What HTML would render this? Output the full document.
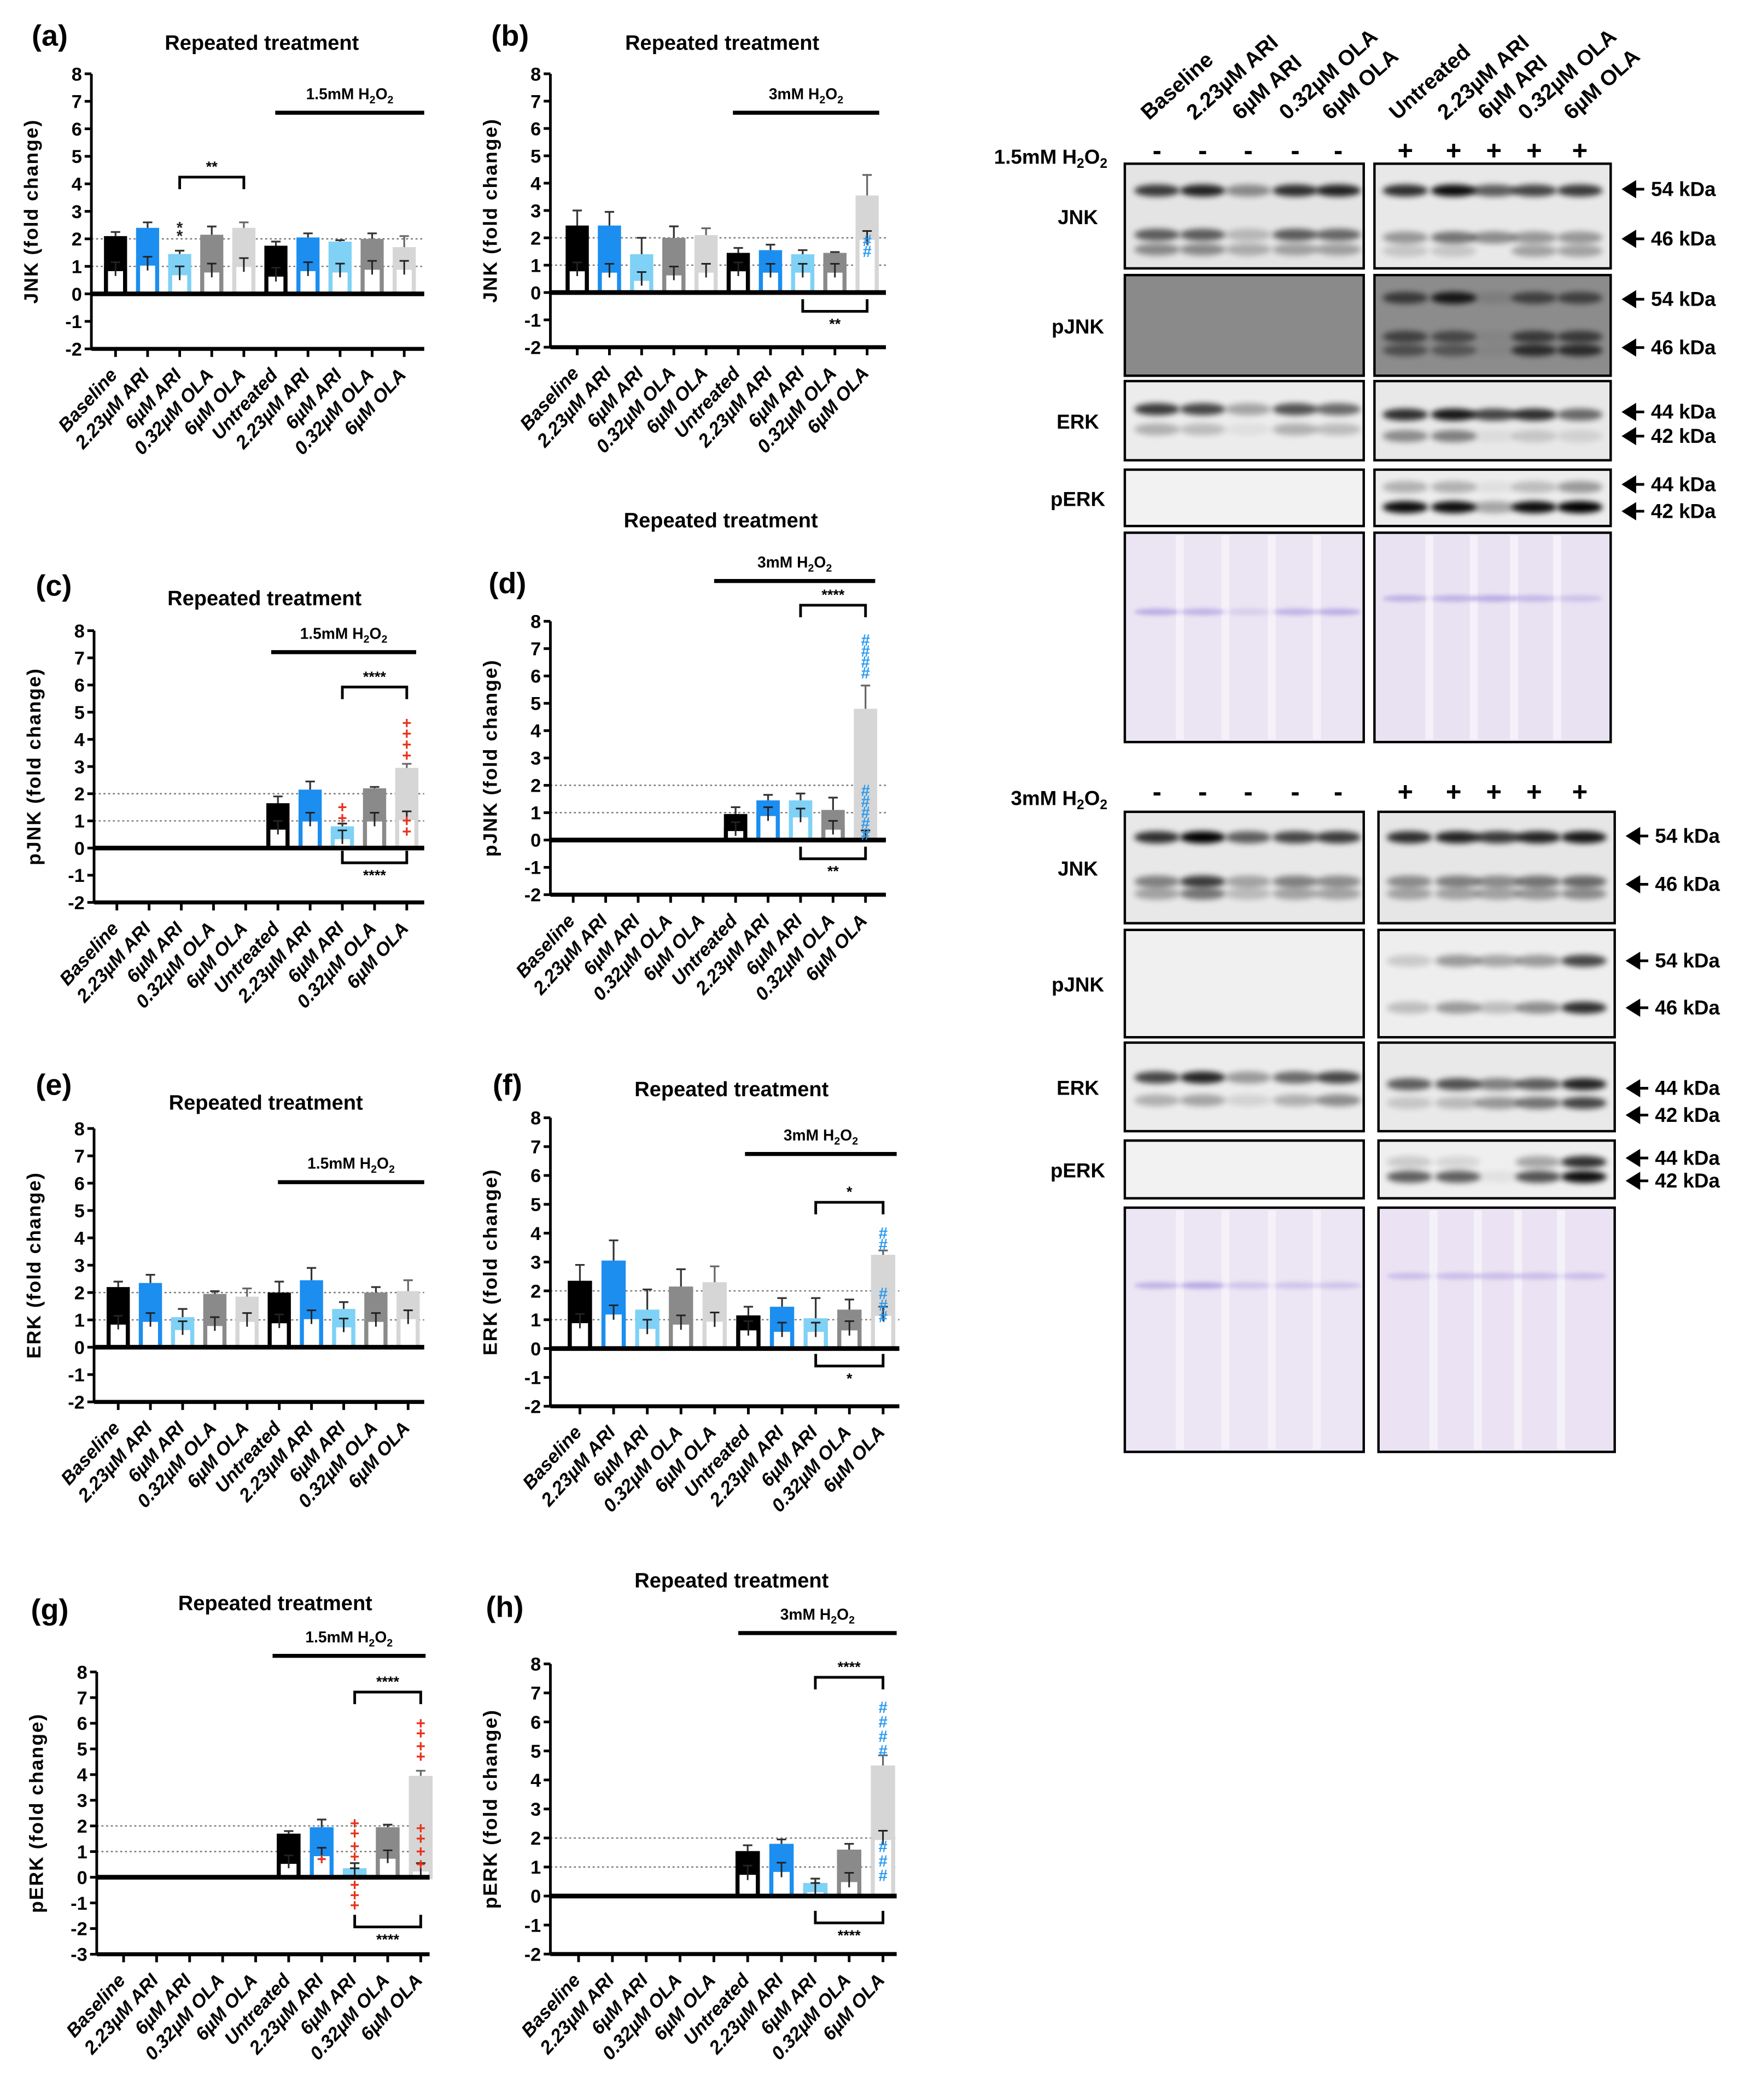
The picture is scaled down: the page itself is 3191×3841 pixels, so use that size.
<!DOCTYPE html>
<html><head><meta charset="utf-8"><style>
html,body{margin:0;padding:0;background:#fff}
svg{display:block}
text{font-family:"Liberation Sans",sans-serif}
</style></head><body>
<svg id="fig" xmlns="http://www.w3.org/2000/svg" width="3191" height="3841" viewBox="0 0 1300 1565">
<defs><filter id="blur" x="-20%" y="-100%" width="140%" height="300%"><feGaussianBlur stdDeviation="2.2"/></filter>
<filter id="blur2" x="-20%" y="-200%" width="140%" height="500%"><feGaussianBlur stdDeviation="1.5"/></filter></defs>
</svg>
<script>
const categories=["Baseline","2.23µM ARI","6µM ARI","0.32µM OLA","6µM OLA","Untreated","2.23µM ARI","6µM ARI","0.32µM OLA","6µM OLA"];
const yTicks=[-3,-2,-1,0,1,2,3,4,5,6,7,8];
const meanA=[2.1,2.4,1.45,2.15,2.4,1.75,2.05,1.9,2.0,1.7];
const errA=[0.15,0.2,0.12,0.3,0.2,0.15,0.15,0.05,0.2,0.4];
const innerA=[0.9,1.1,0.75,0.85,1.05,0.7,0.9,0.85,0.95,0.95];
const meanB=[2.45,2.45,1.4,2.0,2.1,1.45,1.55,1.4,1.45,3.55];
const errB=[0.55,0.5,0.6,0.42,0.25,0.18,0.2,0.15,0.03,0.75];
const innerB=[0.85,0.8,0.5,0.7,0.8,0.85,0.8,0.8,0.8,2.0];
const meanC=[null,null,null,null,null,1.65,2.15,0.8,2.2,2.95];
const errC=[0,0,0,0,0,0.25,0.3,0.1,0.05,0.15];
const innerC=[0,0,0,0,0,0.75,1.05,0.4,1.05,1.1];
const meanD=[null,null,null,null,null,0.95,1.45,1.45,1.1,4.8];
const errD=[0,0,0,0,0,0.25,0.2,0.25,0.45,0.85];
const innerD=[0,0,0,0,0,0.4,0.95,0.9,0.45,0.1];
const meanE=[2.2,2.35,1.1,1.95,1.85,2.0,2.45,1.4,2.0,2.05];
const errE=[0.2,0.3,0.3,0.1,0.3,0.4,0.45,0.25,0.2,0.4];
const innerE=[0.9,1.0,0.7,0.85,1.0,0.95,1.1,0.8,1.0,1.1];
const meanF=[2.35,3.05,1.35,2.15,2.3,1.15,1.45,1.05,1.35,3.25];
const errF=[0.55,0.7,0.7,0.6,0.55,0.3,0.3,0.7,0.35,0.15];
const innerF=[0.95,1.25,0.75,0.9,1.0,0.7,0.65,0.65,0.7,1.2];
const meanG=[null,null,null,null,null,1.7,1.95,0.35,1.95,3.95];
const errG=[0,0,0,0,0,0.1,0.3,0.2,0.1,0.2];
const innerG=[0,0,0,0,0,0.6,0.9,0.1,0.8,0.3];
const meanH=[null,null,null,null,null,1.55,1.8,0.45,1.6,4.5];
const errH=[0,0,0,0,0,0.2,0.15,0.15,0.2,0.35];
const innerH=[0,0,0,0,0,0.8,0.9,0.2,0.55,2.0];

const svg=document.getElementById('fig');
const NS="http://www.w3.org/2000/svg";
function el(tag,attrs,parent,txt){const e=document.createElementNS(NS,tag);for(const k in attrs)e.setAttribute(k,attrs[k]);if(txt!==undefined)e.textContent=txt;(parent||svg).appendChild(e);return e;}
const colors=["#000","#1b8ef0","#7fd1f5","#8a8a8a","#d6d6d6","#000","#1b8ef0","#7fd1f5","#8a8a8a","#d6d6d6"];

function chart(cfg,mean,err,inner){
  const g=el('g',{});
  
  
  const unit=(cfg.y0-cfg.y8)/8;
  const Y=v=>cfg.y0-v*unit;
  const X=i=>cfg.c0+i*cfg.step;
  const yMinPx=Y(cfg.min);
  const lt=el('text',{x:cfg.lx,y:cfg.ly,'font-size':22,'font-weight':'bold','text-anchor':'middle'},g,cfg.letter);
  
  const tt=el('text',{x:cfg.tx,y:cfg.ty,'font-size':15.5,'font-weight':'bold','text-anchor':'middle'},g,'Repeated treatment');
  
  [1,2].forEach(v=>{const l=el('line',{x1:cfg.ax,x2:cfg.xEnd,y1:Y(v),y2:Y(v),stroke:'#777','stroke-width':1,'stroke-dasharray':'1.5,2'},g);
    });
  mean.forEach((m,i)=>{
    if(m===null)return;
    const cx=X(i),w=cfg.step*0.72,c=colors[i];
    const b=el('rect',{x:cx-w/2,y:Y(m),width:w,height:Y(0)-Y(m),fill:c},g);
    
    
    const inn=el('rect',{x:cx-w/2+1.5,y:Y(inner[i]),width:w-3,height:Y(0)-Y(inner[i]),fill:'#fff',stroke:c,'stroke-width':3},g);
    
    const e=el('path',{d:`M${cx},${Y(m)} V${Y(m+err[i])} M${cx-3.5},${Y(m+err[i])} H${cx+3.5}`,stroke:(i%5==4?'#666':'#333'),'stroke-width':1.3,fill:'none'},g);
    
    const t=el('path',{d:`M${cx},${Y(inner[i]+0.25)} V${Y(Math.max(inner[i]-0.25,0))} M${cx-3.5},${Y(inner[i]+0.25)} H${cx+3.5}`,stroke:'#222','stroke-width':1.2,fill:'none'},g);
    
  });
  const ya=el('line',{x1:cfg.ax,x2:cfg.ax,y1:cfg.y8,y2:yMinPx,stroke:'#000','stroke-width':2},g);
  
  const z=el('line',{x1:cfg.ax,x2:cfg.xEnd,y1:Y(0),y2:Y(0),stroke:'#000','stroke-width':3.5},g);
  
  const xb=el('line',{x1:cfg.ax,x2:cfg.xEnd,y1:yMinPx,y2:yMinPx,stroke:'#000','stroke-width':3},g);
  
  yTicks.filter(v=>v>=cfg.min).forEach(v=>{
    el('line',{x1:cfg.ax-5,x2:cfg.ax,y1:Y(v),y2:Y(v),stroke:'#000','stroke-width':2},g);
    const t=el('text',{x:cfg.ax-7,y:Y(v)+5,'font-size':14,'font-weight':'bold','text-anchor':'end'},g,String(v));
    
  });
  categories.forEach((c,i)=>{
    el('line',{x1:X(i),x2:X(i),y1:yMinPx,y2:yMinPx+6,stroke:'#000','stroke-width':2},g);
    const t=el('text',{x:X(i)+2,y:yMinPx+20,'font-size':14,'font-weight':'bold','font-style':'italic','text-anchor':'end',transform:`rotate(-48 ${X(i)+2} ${yMinPx+20})`},g,c);
    
  });
  const yt=el('text',{x:0,y:0,'font-size':14.5,'font-weight':'bold','letter-spacing':'0.8','text-anchor':'middle',transform:`translate(${cfg.ax-40},${(cfg.y8+yMinPx)/2}) rotate(-90)`},g,cfg.ytitle+' (fold change)');
  
  const hb=el('line',{x1:cfg.h[0],x2:cfg.h[1],y1:cfg.h[2],y2:cfg.h[2],stroke:'#000','stroke-width':3},g);
  
  const ht=el('text',{x:(cfg.h[0]+cfg.h[1])/2,y:cfg.h[2]-10,'font-size':11.5,'font-weight':'bold','text-anchor':'middle'},g);
  ht.innerHTML=cfg.hl+'mM H<tspan font-size="8" dy="3">2</tspan><tspan dy="-3">O</tspan><tspan font-size="8" dy="3">2</tspan>';
  
  (cfg.brackets||[]).forEach(b=>{
    const [i1,i2,y,lab,down]=b;const x1=X(i1),x2=X(i2);
    const d=down?`M${x1},${y-9} V${y} H${x2} V${y-9}`:`M${x1},${y+9} V${y} H${x2} V${y+9}`;
    const p=el('path',{d,stroke:'#000','stroke-width':2,fill:'none'},g);
    
    const t=el('text',{x:(x1+x2)/2,y:down?y+13:y-4,'font-size':11,'font-weight':'bold','text-anchor':'middle'},g,lab);
    
  });
  (cfg.marks||[]).forEach(mk=>{
    const [i,sym,col,vals]=mk;
    vals.forEach(v=>{const t=el('text',{x:X(i),y:Y(v)+4,'font-size':12,'font-weight':'bold','text-anchor':'middle',fill:col},g,sym);
      });
  });
}
const red="#e8321c",blu="#2a9af0";
chart({name:'chart-a-jnk-1.5mm',letter:'(a)',lx:37,ly:34,tx:195,ty:37,ax:68,xEnd:316,y8:55,y0:219,min:-2,c0:86,step:23.9,ytitle:'JNK',h:[205,316,84],hl:'1.5',
  brackets:[[2,4,132,'**',false]],marks:[[2,'*','#222',[2.4,2.1]]]},meanA,errA,innerA);
chart({name:'chart-b-jnk-3mm',letter:'(b)',lx:380,ly:34,tx:538,ty:37,ax:410,xEnd:660,y8:55,y0:218,min:-2,c0:430,step:24,ytitle:'JNK',h:[546,655,84],hl:'3',
  brackets:[[7,9,232,'**',true]],marks:[[9,'#',blu,[1.9,1.5]]]},meanB,errB,innerB);
chart({name:'chart-c-pjnk-1.5mm',letter:'(c)',lx:40,ly:444,tx:197,ty:451,ax:70,xEnd:316,y8:470,y0:632,min:-2,c0:87,step:24,ytitle:'pJNK',h:[202,310,486],hl:'1.5',
  brackets:[[7,9,512,'****',false],[7,9,643,'****',true]],marks:[[7,'+',red,[1.5,1.1]],[9,'+',red,[4.6,4.2,3.8,3.4,1.0,0.6]]]},meanC,errC,innerC);
chart({name:'chart-d-pjnk-3mm',letter:'(d)',lx:378,ly:442,tx:537,ty:393,ax:410,xEnd:660,y8:463,y0:626,min:-2,c0:427,step:24.2,ytitle:'pJNK',h:[532,652,433],hl:'3',
  brackets:[[7,9,451,'****',false],[7,9,640,'**',true]],marks:[[9,'#',blu,[7.3,6.9,6.5,6.1,1.8,1.4,1.0,0.6,0.2]]]},meanD,errD,innerD);
chart({name:'chart-e-erk-1.5mm',letter:'(e)',lx:40,ly:816,tx:198,ty:827,ax:70,xEnd:316,y8:841,y0:1004,min:-2,c0:88,step:24,ytitle:'ERK',h:[207,316,881],hl:'1.5'},meanE,errE,innerE);
chart({name:'chart-f-erk-3mm',letter:'(f)',lx:378,ly:816,tx:545,ty:817,ax:410,xEnd:670,y8:833,y0:1005,min:-2,c0:432,step:25.1,ytitle:'ERK',h:[555,668,860],hl:'3',
  brackets:[[7,9,896,'*',false],[7,9,1018,'*',true]],marks:[[9,'#',blu,[4.0,3.6,1.9,1.5,1.1]]]},meanF,errF,innerF);
chart({name:'chart-g-perk-1.5mm',letter:'(g)',lx:37,ly:1207,tx:205,ty:1200,ax:72,xEnd:320,y8:1246,y0:1399,min:-3,c0:92,step:24.6,ytitle:'pERK',h:[203,317,1234],hl:'1.5',
  brackets:[[7,9,1261,'****',false],[7,9,1436,'****',true]],marks:[[6,'+',red,[0.7]],[7,'+',red,[2.1,1.7,1.2,0.8,-0.3,-0.7,-1.1]],[9,'+',red,[6.0,5.6,5.1,4.7,1.9,1.5,1.0,0.5]]]},meanG,errG,innerG);
chart({name:'chart-h-perk-3mm',letter:'(h)',lx:376,ly:1205,tx:545,ty:1183,ax:410,xEnd:668,y8:1240,y0:1413,min:-2,c0:431,step:25.2,ytitle:'pERK',h:[550,668,1217],hl:'3',
  brackets:[[7,9,1250,'****',false],[7,9,1433,'****',true]],marks:[[9,'#',blu,[6.5,6.0,5.5,5.0,1.7,1.2,0.7]]]},meanH,errH,innerH);

// ---- Western blots ----
const lanesL=[862,896,930,965,997];
const lanesR=[1047,1083,1113,1143,1177];
function blotSet(name,top,hLabel,boxR,rows,showLanes){
  const g=el('g',{});
  if(showLanes)categories.forEach((c,i)=>{const x=i<5?lanesL[i]:lanesR[i-5];
    const t=el('text',{x:x-6,y:top-10,'font-size':16,'font-weight':'bold',transform:`rotate(-42 ${x-6} ${top-10})`},g,c);
    
  });
  const hl=el('text',{x:825,y:top+22,'font-size':15,'font-weight':'bold','text-anchor':'end'},g);
  hl.innerHTML=hLabel+'mM H<tspan font-size="10" dy="3">2</tspan><tspan dy="-3">O</tspan><tspan font-size="10" dy="3">2</tspan>';
  
  [...lanesL.map(x=>[x,'-']),...lanesR.map(x=>[x,'+'])].forEach(([x,s])=>{
    const t=el('text',{x,y:top+19,'font-size':20,'font-weight':'bold','text-anchor':'middle'},g,s==='-'?'-':'+');
    
  });
  rows.forEach(r=>{
    [[838,1016,r.bgL,r.bandsL],[boxR[0],boxR[1],r.bgR,r.bandsR]].forEach(([x1,x2,bg,bands],side)=>{
      const b=el('rect',{x:x1,y:r.y1,width:x2-x1,height:r.y2-r.y1,fill:bg,stroke:'#000','stroke-width':1.8},g);
      
      const lanes=side?lanesR.map(x=>x+(boxR[0]-1024)):lanesL;
      if(!r.label){lanes.forEach((lx,k)=>{if(k<4)el('rect',{x:(lx+lanes[k+1])/2-3,y:r.y1+2,width:6,height:r.y2-r.y1-4,fill:'#f7f4fa',opacity:0.8},g);});}
      bands.forEach(([y,ints,col])=>{ints.forEach((a,k)=>{if(a<=0)return;
        el('ellipse',{cx:lanes[k],cy:y,rx:17,ry:r.label?4.5:2.5,fill:col||'#000',opacity:a,filter:r.label?'url(#blur)':'url(#blur2)'},g);});});
    });
    if(r.label){const t=el('text',{x:803,y:(r.y1+r.y2)/2+6,'font-size':15,'font-weight':'bold','text-anchor':'middle'},g,r.label);
      }
    (r.kda||[]).forEach(([y,k])=>{
      const a=el('path',{d:`M${boxR[1]+25},${y} H${boxR[1]+10} M${boxR[1]+10},${y} l8,-5 v10 z`,stroke:'#000','stroke-width':2,fill:'#000'},g);
      
      const t=el('text',{x:boxR[1]+30,y:y+5,'font-size':15,'font-weight':'bold'},g,k+' kDa');
      
    });
  });
}
const stain='#8e7ad6';
blotSet('blot-1.5mm',100,'1.5',[1024,1200],[
 {label:'JNK',y1:122,y2:200,bgL:'#e4e4e4',bgR:'#e8e8e8',bandsL:[[142,[.75,.85,.4,.8,.85]],[175,[.6,.6,.2,.6,.55]],[186,[.4,.4,.25,.3,.3]]],bandsR:[[142,[.8,.95,.6,.7,.75]],[177,[.35,.5,.4,.35,.35]],[187,[.15,.15,0,.3,.3]]],kda:[[141,'54'],[178,'46']]},
 {label:'pJNK',y1:205,y2:280,bgL:'#8a8a8a',bgR:'#8c8c8c',bandsL:[],bandsR:[[222,[.6,.85,.1,.55,.55]],[251,[.55,.5,.05,.6,.6]],[261,[.45,.4,.05,.7,.7]]],kda:[[223,'54'],[259,'46']]},
 {label:'ERK',y1:284,y2:343,bgL:'#ececec',bgR:'#e8e8e8',bandsL:[[305,[.75,.7,.3,.65,.55]],[320,[.25,.2,.05,.25,.2]]],bandsR:[[309,[.8,.9,.7,.8,.55]],[325,[.4,.45,.05,.15,.1]]],kda:[[307,'44'],[325,'42']]},
 {label:'pERK',y1:350,y2:392,bgL:'#f2f2f2',bgR:'#ededed',bandsL:[],bandsR:[[363,[.25,.25,.05,.2,.35]],[378,[.95,.95,.3,.95,1]]],kda:[[361,'44'],[381,'42']]},
 {label:null,y1:397,y2:553,bgL:'#ebe4f3',bgR:'#e9e2f2',bandsL:[[456,[.5,.45,.2,.45,.5],stain]],bandsR:[[446,[.45,.45,.5,.4,.3],stain]]}
],true);
blotSet('blot-3mm',578,'3',[1027,1203],[
 {label:'JNK',y1:605,y2:688,bgL:'#e8e8e8',bgR:'#e6e6e6',bandsL:[[624,[.8,1,.6,.7,.75]],[657,[.45,.75,.3,.45,.4]],[666,[.3,.5,.2,.3,.3]]],bandsR:[[624,[.8,.85,.75,.85,.9]],[657,[.4,.45,.4,.5,.55]],[666,[.3,.3,.3,.35,.4]]],kda:[[623,'54'],[659,'46']]},
 {label:'pJNK',y1:693,y2:773,bgL:'#f0f0f0',bgR:'#eeeeee',bandsL:[],bandsR:[[716,[.15,.35,.3,.35,.7]],[751,[.2,.35,.2,.4,.8]]],kda:[[716,'54'],[751,'46']]},
 {label:'ERK',y1:777,y2:843,bgL:'#ececec',bgR:'#e9e9e9',bandsL:[[803,[.7,.85,.35,.55,.7]],[820,[.25,.3,.1,.25,.4]]],bandsR:[[808,[.6,.65,.45,.6,.85]],[822,[.15,.2,.35,.5,.7]]],kda:[[811,'44'],[831,'42']]},
 {label:'pERK',y1:850,y2:893,bgL:'#f2f2f2',bgR:'#efefef',bandsL:[],bandsR:[[866,[.15,.1,0,.3,.8]],[877,[.6,.6,.05,.65,.95]]],kda:[[863,'44'],[880,'42']]},
 {label:null,y1:900,y2:1082,bgL:'#ece5f4',bgR:'#ebe3f3',bandsL:[[958,[.45,.55,.3,.3,.3],stain]],bandsR:[[951,[.35,.35,.35,.35,.35],stain]]}
],false);
</script>
</body></html>
